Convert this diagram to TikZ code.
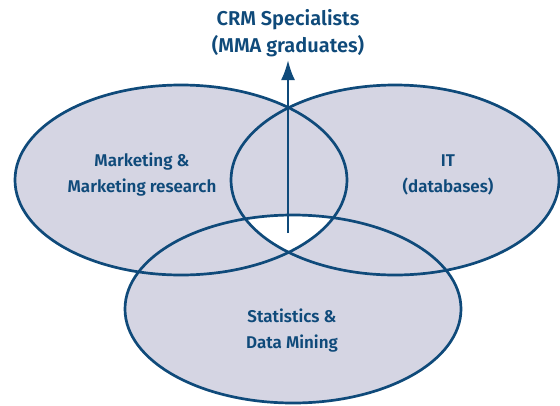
\documentclass[tikz,border=0pt]{standalone}
\usepackage{fontspec}
\setmainfont{Fira Sans}[BoldFont={Fira Sans SemiBold}]
\usetikzlibrary{arrows.meta}
\definecolor{edge}{HTML}{0F4A7A}
\definecolor{fillc}{HTML}{D5D5E3}
\begin{document}
\begin{tikzpicture}[x=1pt,y=-1pt,
  lbl/.style={text=edge,font=\fontsize{17}{26}\selectfont\bfseries,align=center,inner sep=0pt},
  ttl/.style={lbl,font=\fontsize{20}{27}\selectfont\bfseries},
  ring/.style={draw=edge,line width=2.7pt}]
\useasboundingbox (0,0) rectangle (560,405);
% fills
\fill[fillc] (181,180) ellipse [x radius=166, y radius=95];
\fill[fillc] (395,180) ellipse [x radius=164, y radius=95];
\fill[fillc] (293,309) ellipse [x radius=168, y radius=94];
\begin{scope}
  \clip (181,180) ellipse [x radius=166, y radius=95];
  \clip (395,180) ellipse [x radius=164, y radius=95];
  \fill[white] (293,309) ellipse [x radius=168, y radius=94];
\end{scope}
% outlines
\draw[ring] (181,180) ellipse [x radius=166, y radius=95];
\draw[ring] (395,180) ellipse [x radius=164, y radius=95];
\draw[ring] (293,309) ellipse [x radius=168, y radius=94];
% labels
\node[ttl] (crm) at (288,33) {CRM Specialists\\(MMA graduates)};
\node[lbl] (mkt) at (142,175) {Marketing \&\\Marketing research};
\node[lbl] (it) at (448,175) {IT\\(databases)};
\node[lbl] (stat) at (292,331) {Statistics \&\\Data Mining};
\coordinate (base) at (288,233);
\coordinate (tip) at (288,60);
\draw[edge,line width=2.5pt,-{Latex[length=20pt,width=14pt]}] (base) -- (tip);
\end{tikzpicture}
\end{document}
